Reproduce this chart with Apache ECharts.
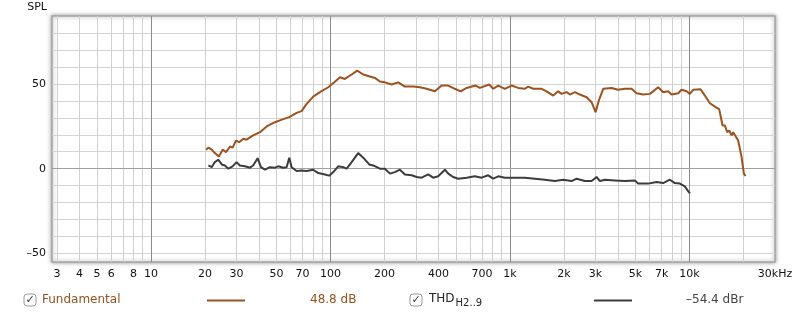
<!DOCTYPE html>
<html><head><meta charset="utf-8">
<script src="https://cdn.jsdelivr.net/npm/echarts@6/dist/echarts.min.js"></script>
<style>html,body{margin:0;padding:0;background:#fff}#c{width:800px;height:317px}</style>
</head><body><div id="c"></div>
<script>
// Frequency (Hz), level (dB)
const fundamental = [[20.3,11.2],[20.9,12.4],[21.8,11.2],[22.7,9.2],[23.9,7.2],[25.1,11.2],[26.2,9.8],[27.6,13.1],[28.5,12.4],[29.8,16.6],[31.0,15.6],[32.7,17.6],[34.1,17.1],[37.1,19.6],[40.5,21.5],[44.1,24.9],[49.1,27.4],[54.6,29.2],[59.0,30.4],[64.8,32.9],[69.1,33.9],[73.7,38.2],[80.2,42.5],[87.4,45.1],[97.2,48.0],[105.9,51.2],[113,53.9],[120.4,52.9],[131.3,55.5],[141.1,57.8],[152.3,55.5],[166,54.3],[177,53.5],[188.7,51.4],[201.2,50.9],[219.3,49.6],[238.6,50.9],[260,48.4],[289.3,48.4],[315.1,48.0],[343.6,47.1],[382.1,45.6],[416.5,49.0],[453.3,49.0],[493.9,47.1],[531.3,45.6],[573.9,47.6],[644.1,49.0],[680.7,47.6],[766.9,49.6],[807.4,47.1],[860.8,49.0],[937.8,47.1],[1022,49.0],[1112,47.6],[1212,47.1],[1265,48.4],[1349,47.1],[1502,47.1],[1601,45.6],[1743,43.1],[1858,45.6],[1941,44.1],[2070,45.1],[2159,43.7],[2302,45.1],[2455,43.7],[2675,42.1],[2852,39.2],[3002,33.3],[3131,40.2],[3310,47.1],[3686,47.6],[4012,46.5],[4372,47.1],[4764,47.1],[5079,44.5],[5528,43.7],[6026,44.1],[6703,48.0],[7145,45.1],[7620,45.6],[7960,43.7],[8661,44.5],[9049,46.5],[9647,45.6],[10064,44.1],[10500,46.5],[11546,46.8],[12204,43.1],[13012,38.6],[13875,36.6],[14660,35.1],[15310,25.5],[15770,25.5],[16240,21.5],[16670,22.5],[17190,19.6],[17540,21.5],[17930,22.1],[18710,16.6],[19540,6.8],[20120,-2.9],[20560,-4.3]];
const thd = [[20.9,1.9],[21.8,0.9],[22.7,3.9],[23.7,5.3],[24.8,2.5],[25.8,1.9],[27.0,0],[28.5,1.4],[30.0,3.9],[31.3,1.9],[33.4,1.4],[35.6,0.6],[37.1,1.9],[39.3,6.2],[41.0,0.9],[43.2,-0.6],[46.0,0.9],[49.1,0.6],[51.2,1.4],[54.6,0.6],[57.0,0.9],[59.0,6.5],[60.8,0.9],[64.8,-1.4],[69.1,-1.0],[73.7,-1.4],[80.2,-0.6],[85.5,-2.6],[93.2,-3.4],[98.5,-4.1],[103.7,-2.0],[110.5,1.4],[117.9,0.9],[123.1,0],[131.3,3.9],[142.8,9.2],[152.3,6.5],[164.5,2.5],[173.2,1.9],[188.7,0],[201.2,0],[214.6,-2.9],[228.8,-2.0],[243.9,-0.6],[260,-3.4],[283.5,-3.9],[302.2,-4.9],[322.2,-5.3],[350.7,-3.4],[373.8,-5.3],[398.6,-4.5],[434.5,-0.6],[453.3,-2.9],[483.2,-4.9],[515.2,-5.9],[573.9,-5.3],[638.3,-4.5],[695.6,-5.3],[757,-3.9],[807.4,-5.9],[860.8,-4.5],[937.8,-5.3],[1043,-5.3],[1212,-5.3],[1378,-5.9],[1567,-6.5],[1781,-7.3],[1982,-6.5],[2207,-7.3],[2353,-5.9],[2617,-7.3],[2852,-7.3],[3041,-4.9],[3172,-7.3],[3383,-6.5],[3846,-6.9],[4372,-7.3],[4970,-6.9],[5186,-8.8],[5896,-8.8],[6566,-7.9],[7145,-8.5],[7788,-6.5],[8303,-8.5],[8853,-8.8],[9438,-10.4],[9772,-12.8],[10064,-14.5]];

const xMinorGrid = [3,4,5,6,7,8,9,20,30,40,50,60,70,80,90,200,300,400,500,600,700,800,900,2000,3000,4000,5000,6000,7000,8000,9000,20000];
const xMajorGrid = [10,100,1000,10000];
const xLabels = [3,4,5,6,8,10,20,30,50,70,100,200,400,700,1000,2000,3000,5000,7000,10000,30000];
const yGrid = [-50,-40,-30,-20,-10,0,10,20,30,40,50,60,70,80];
const yLabels = [-50,0,50];
const legendFund = {name:'Fundamental', value:'48.8 dB'};
const legendThd = {name:'THD', sub:'H2..9', value:'\u201354.4 dBr'};

const FONT = 'DejaVu Sans';
const BROWN = '#9d521f';
const BROWN_TXT = '#94521f';
const DARK = '#3c3c3c';
const X_MIN = 2.81, X_MAX = 30000;

function fmtX(v){
  if (v >= 30000) return '30kHz';
  if (v >= 1000) return (v/1000) + 'k';
  return String(v);
}
function fmtY(v){ return v < 0 ? '\u2013' + Math.abs(v) : String(v); }

const chart = echarts.init(document.getElementById('c'), null, {renderer:'canvas'});
chart.setOption({
  animation:false,
  backgroundColor:'#fff',
  grid:{left:52,right:25,top:16,bottom:55,show:true,borderColor:'#a4a4a4',borderWidth:1.5,
        backgroundColor:'#fff',shadowColor:'rgba(0,0,0,0.4)',shadowBlur:4},
  xAxis:[
    {type:'log',min:X_MIN,max:X_MAX,gridIndex:0,
     axisLine:{show:true,lineStyle:{color:'#a0a0a0'}},
     axisTick:{show:false,customValues:xMinorGrid},
     axisLabel:{customValues:xLabels,formatter:fmtX,color:'#111',fontFamily:FONT,fontSize:11,margin:7,hideOverlap:false,showMinLabel:true,showMaxLabel:true},
     splitLine:{show:true,lineStyle:{color:'#d0d0d0',width:1}}},
    {type:'log',min:X_MIN,max:X_MAX,gridIndex:0,position:'bottom',
     axisLine:{show:false},axisTick:{show:false,customValues:xMajorGrid},
     axisLabel:{show:false},
     splitLine:{show:true,lineStyle:{color:'#8a8a8a',width:1}}}
  ],
  yAxis:{type:'value',min:-55,max:90,
     name:'SPL',nameLocation:'end',nameGap:3,
     nameTextStyle:{color:'#111',fontFamily:FONT,fontSize:11,align:'right',padding:[0,5,0,0]},
     axisLine:{show:false},axisTick:{show:false,customValues:yGrid},
     axisLabel:{customValues:yLabels,formatter:fmtY,color:'#111',fontFamily:FONT,fontSize:11,margin:6},
     splitLine:{show:true,lineStyle:{color:'#d4d4d4',width:1}}},
  series:[
    {type:'line',name:legendFund.name,data:fundamental,xAxisIndex:0,yAxisIndex:0,showSymbol:false,
     lineStyle:{color:BROWN,width:2},z:3},
    {type:'line',name:legendThd.name,data:thd,xAxisIndex:0,yAxisIndex:0,showSymbol:false,
     lineStyle:{color:DARK,width:2},z:2}
  ],
  graphic:[
    {type:'rect',shape:{x:24,y:294,width:12,height:12,r:3},style:{fill:'#fff',stroke:'#9a9a9a',lineWidth:1}},
    {type:'text',x:30,y:300,style:{text:'\u2713',fill:'#333',font:'11px '+FONT,align:'center',verticalAlign:'middle'}},
    {type:'text',x:42,y:300,style:{text:legendFund.name,fill:BROWN_TXT,font:'12px '+FONT,verticalAlign:'middle'}},
    {type:'line',shape:{x1:207,y1:300.5,x2:245,y2:300.5},style:{stroke:BROWN,lineWidth:2}},
    {type:'text',x:310,y:300,style:{text:legendFund.value,fill:BROWN_TXT,font:'12px '+FONT,verticalAlign:'middle'}},
    {type:'rect',shape:{x:410,y:294,width:12,height:12,r:3},style:{fill:'#fff',stroke:'#9a9a9a',lineWidth:1}},
    {type:'text',x:416,y:300,style:{text:'\u2713',fill:'#333',font:'11px '+FONT,align:'center',verticalAlign:'middle'}},
    {type:'text',x:429,y:299,style:{text:'{m|'+legendThd.name+'}{s|'+legendThd.sub+'}',verticalAlign:'middle',
      rich:{m:{fill:'#222',font:'12px '+FONT},s:{fill:'#222',font:'10px '+FONT,padding:[8,0,0,1]}}}},
    {type:'line',shape:{x1:594,y1:300.5,x2:632,y2:300.5},style:{stroke:DARK,lineWidth:2}},
    {type:'text',x:686,y:300,style:{text:legendThd.value,fill:'#444',font:'12px '+FONT,verticalAlign:'middle'}}
  ]
});
</script></body></html>
